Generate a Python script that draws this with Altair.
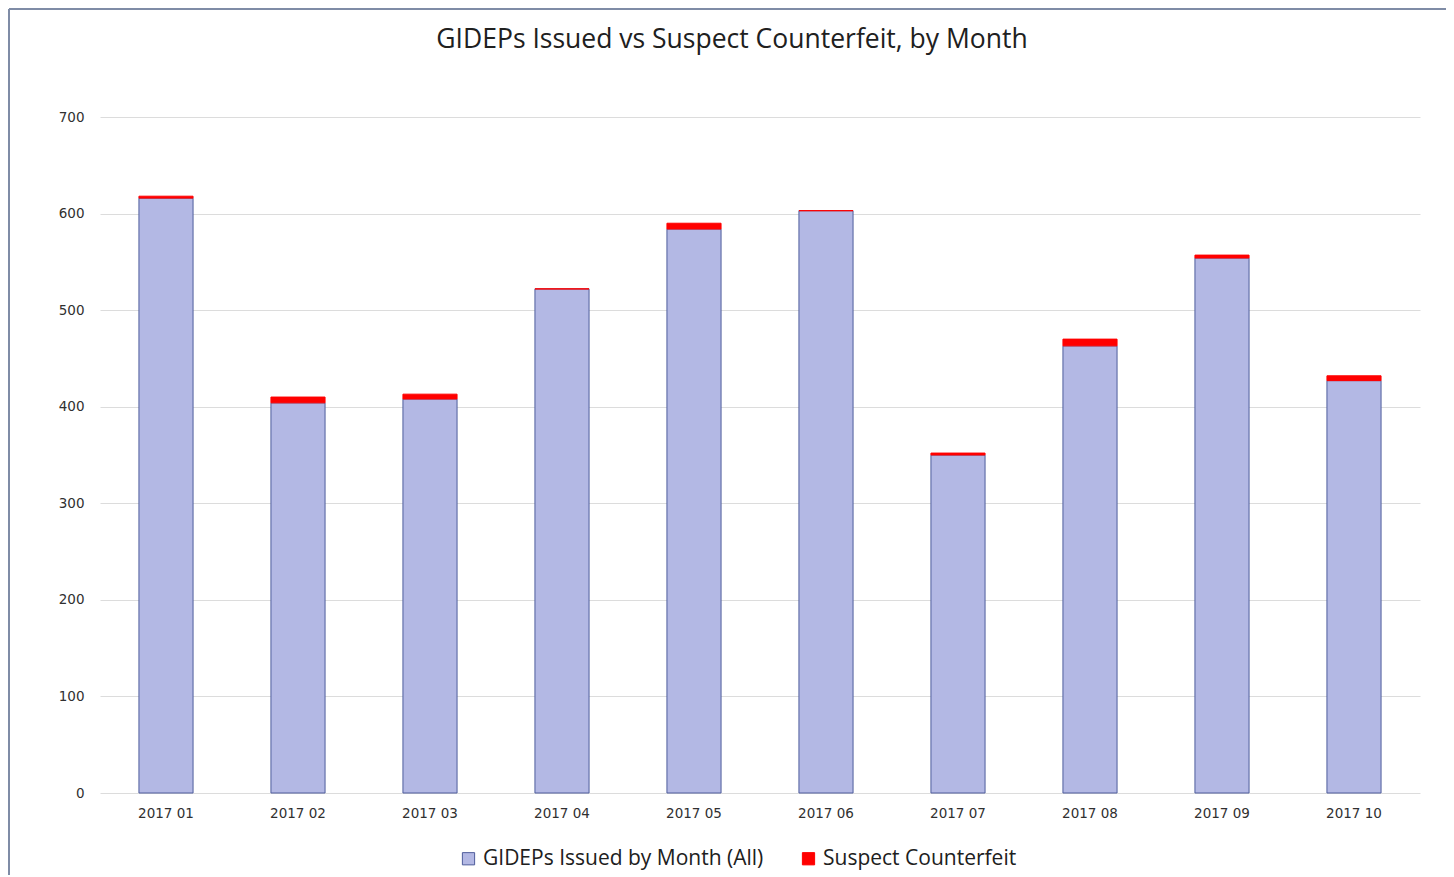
import altair as alt
import pandas as pd

months = ["2017 01", "2017 02", "2017 03", "2017 04", "2017 05",
          "2017 06", "2017 07", "2017 08", "2017 09", "2017 10"]
issued = [616, 404, 408, 522, 584, 603, 350, 463, 554, 427]
suspect = [2, 6, 5, 0, 6, 0, 2, 7, 3, 5]
series = ["GIDEPs Issued by Month (All)", "Suspect Counterfeit"]
colors = ["#b3b8e4", "#ff0000"]
strokes = ["#4f5d9c", "#ff0000"]

rows = []
for m, a, s in zip(months, issued, suspect):
    rows.append({"month": m, "series": series[0], "value": a, "ord": 0})
    rows.append({"month": m, "series": series[1], "value": s, "ord": 1})
df = pd.DataFrame(rows)

W, H = 1320, 676

bars = alt.Chart(df).mark_bar(strokeWidth=1).encode(
    x=alt.X("month:N", sort=months,
            scale=alt.Scale(paddingInner=0.59, paddingOuter=0.295),
            axis=alt.Axis(title=None, labelAngle=0, domain=False, ticks=False,
                          labelFont="DejaVu Sans", labelFontSize=13.5,
                          labelColor="#303030", labelPadding=13)),
    y=alt.Y("value:Q", stack="zero",
            scale=alt.Scale(domain=[0, 700], nice=False),
            axis=alt.Axis(title=None, values=[0, 100, 200, 300, 400, 500, 600, 700],
                          domain=False, ticks=False, gridColor="#dcdcdc",
                          labelFont="DejaVu Sans", labelFontSize=13.5,
                          labelColor="#303030", labelPadding=16)),
    color=alt.Color("series:N", scale=alt.Scale(domain=series, range=colors),
                    legend=alt.Legend(title=None, orient="none", direction="horizontal",
                                      legendX=358, legendY=731, symbolType="square",
                                      symbolSize=150, symbolStrokeWidth=1,
                                      labelFont="Open Sans", labelFontSize=21,
                                      labelColor="#202020", columnPadding=34,
                                      labelOffset=4, labelLimit=0)),
    stroke=alt.Stroke("series:N", scale=alt.Scale(domain=series, range=strokes), legend=None),
    order=alt.Order("ord:Q"),
)

frame_left = alt.Chart(df).mark_rule(color="#7f8ca6", strokeWidth=2).encode(
    x=alt.value(-91), y=alt.value(-108), y2=alt.value(H + 100))
frame_top = alt.Chart(df).mark_rule(color="#7f8ca6", strokeWidth=2).encode(
    x=alt.value(-91), x2=alt.value(W + 60), y=alt.value(-108))

chart = alt.layer(bars, frame_left, frame_top).properties(
    width=W, height=H,
    background="white",
    title=alt.TitleParams("GIDEPs Issued vs Suspect Counterfeit, by Month",
                          font="Open Sans", fontSize=26.5, fontWeight="normal",
                          color="#202020", anchor="middle", frame="group",
                          dx=-28, offset=0, dy=45),
    autosize=alt.AutoSizeParams(type="none"),
    padding={"left": 92, "top": 109, "right": 26, "bottom": 82},
).configure_view(strokeWidth=0, stroke="transparent")

chart.save("out.html", embed_options={"renderer": "svg", "actions": False})
